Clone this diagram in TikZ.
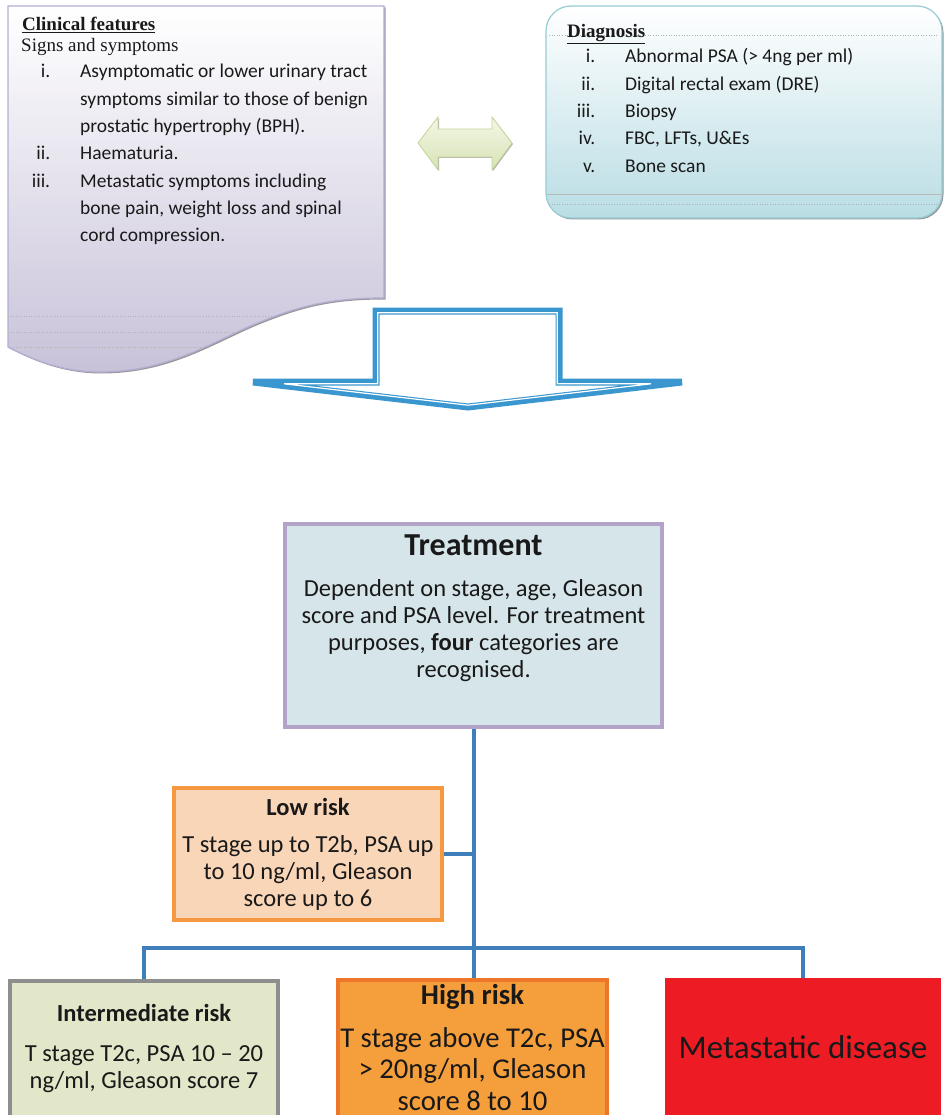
\documentclass[tikz,border=0pt]{standalone}
\usepackage{fontspec}
\setmainfont{Carlito}
\newfontfamily\serifhead{Liberation Serif}
\usepackage{tikz}
\usetikzlibrary{shapes.geometric, arrows}
\usetikzlibrary{positioning}
\usetikzlibrary{shadows}

\definecolor{inkgray}{RGB}{25,25,25}
\definecolor{clinlow}{RGB}{200,194,217}
\definecolor{clinline}{RGB}{182,172,212}
\definecolor{diaglow}{RGB}{185,221,228}
\definecolor{diagline}{RGB}{150,204,214}
\definecolor{dbltop}{RGB}{244,247,230}
\definecolor{dbllow}{RGB}{214,227,182}
\definecolor{dblline}{RGB}{196,212,150}
\definecolor{bigblue}{RGB}{58,150,206}
\definecolor{linkblue}{RGB}{62,126,186}
\definecolor{treatfill}{RGB}{214,229,234}
\definecolor{treatline}{RGB}{180,163,200}
\definecolor{lowfill}{RGB}{250,214,184}
\definecolor{lowline}{RGB}{246,152,64}
\definecolor{interfill}{RGB}{225,231,200}
\definecolor{interline}{RGB}{142,142,142}
\definecolor{highfill}{RGB}{245,158,60}
\definecolor{highline}{RGB}{238,118,42}
\definecolor{metafill}{RGB}{237,28,36}

\tikzstyle{box} = [rectangle, line width=4pt, inner sep=0pt, anchor=north west]
\tikzstyle{tree} = [draw=linkblue, line width=4pt]
\tikzstyle{boxhead} = [text=inkgray, font=\bfseries\fontsize{24.5}{27}\selectfont, anchor=base]
\tikzstyle{boxtext} = [text=inkgray, font=\fontsize{24.5}{27}\selectfont, align=center, anchor=base]
\tikzstyle{listtext} = [text=inkgray, font=\fontsize{19.5}{27.3}\selectfont, inner sep=0pt, anchor=base west]
\tikzstyle{cardtitle} = [text=inkgray, font=\serifhead\fontsize{19}{22}\selectfont, inner sep=0pt, anchor=base west]
\tikzstyle{ruleline} = [gray!60, line width=0.6pt, dotted]
\tikzstyle{bigarrow} = [draw=bigblue, line width=7pt]
\tikzstyle{arrowgap} = [draw=white, line width=1.2pt]
\tikzstyle{cardshadow} = [drop shadow={shadow xshift=1.5pt, shadow yshift=-1.5pt, opacity=.8}]
\newcommand{\itemnum}[1]{\makebox[20pt][r]{#1}}

\begin{document}
\begin{tikzpicture}[x=1pt, y=-1pt]
	\useasboundingbox (0,0) rectangle (943,1115);
	% clinical features card
	\shade[top color=white, bottom color=clinlow, draw=clinline, line width=1.2pt, cardshadow] (8,6) -- (384,6) -- (384,298) .. controls (330,298) and (300,306) .. (260,322) .. controls (215,340) and (170,372) .. (100,372) .. controls (60,372) and (30,358) .. (8,347) -- cycle;
	\begin{scope}
		\clip (8,6) -- (384,6) -- (384,298) .. controls (330,298) and (300,306) .. (260,322) .. controls (215,340) and (170,372) .. (100,372) .. controls (60,372) and (30,358) .. (8,347) -- cycle;
		\draw[ruleline] (8,316) -- (384,316);
		\draw[ruleline] (8,332) -- (384,332);
		\draw[ruleline] (8,347) -- (384,347);
	\end{scope}
	\node (clin-title) [cardtitle, font=\serifhead\bfseries\fontsize{19}{22}\selectfont] at (22,31) {\underline{Clinical features}};
	\node (clin-sub) [cardtitle] at (21,52) {Signs and symptoms};
	\node (clin-list) [listtext] at (30,78) {\begin{tabular}[t]{@{}l@{\hspace{30pt}}l@{}}
		\itemnum{i.} & Asymptomatic or lower urinary tract\\
		 & symptoms similar to those of benign\\
		 & prostatic hypertrophy (BPH).\\
		\itemnum{ii.} & Haematuria.\\
		\itemnum{iii.} & Metastatic symptoms including\\
		 & bone pain, weight loss and spinal\\
		 & cord compression.
	\end{tabular}};

	% diagnosis card
	\shade[top color=white, bottom color=diaglow, draw=diagline, line width=1.2pt, rounded corners=25pt, cardshadow] (546,6) rectangle (942,218);
	\draw[ruleline] (549,35) -- (939,35);
	\draw[gray!55, line width=0.6pt] (547,194) -- (941,194);
	\draw[ruleline] (549,204) -- (939,204);
	\node (diag-title) [cardtitle, font=\serifhead\bfseries\fontsize{19}{22}\selectfont] at (567,38) {\underline{Diagnosis}};
	\node (diag-list) [listtext] at (575,63) {\begin{tabular}[t]{@{}l@{\hspace{30pt}}l@{}}
		\itemnum{i.} & Abnormal PSA (> 4ng per ml)\\
		\itemnum{ii.} & Digital rectal exam (DRE)\\
		\itemnum{iii.} & Biopsy\\
		\itemnum{iv.} & FBC, LFTs, U\&Es\\
		\itemnum{v.} & Bone scan
	\end{tabular}};

	% arrows between the cards and down to treatment
	\shade[top color=dbltop, bottom color=dbllow, draw=dblline, line width=0.8pt, drop shadow={shadow xshift=1pt, shadow yshift=-1pt, opacity=.6}] (418,143) -- (438,117) -- (438,129) -- (492,129) -- (492,117) -- (512,143) -- (492,170) -- (492,157) -- (438,157) -- (438,170) -- cycle;
	\draw[bigarrow] (253,382) -- (376,382) -- (376,311) -- (559,311) -- (559,382) -- (682,382) -- (468,407) -- cycle;
	\draw[arrowgap] (284,383.8) -- (377.8,383.8) -- (377.8,312.8) -- (557.2,312.8) -- (557.2,383.8) -- (651,383.8) -- (468,405.2) -- cycle;

	% treatment and risk groups
	\node (treat) [box, draw=treatline, fill=treatfill, minimum width=377pt, minimum height=203pt] at (283,522) {};
	\node (treat-head) [boxhead, font=\bfseries\fontsize{32}{36}\selectfont] at (473.5,555) {Treatment};
	\node (treat-text) [boxtext] at (473.5,677) {Dependent on stage, age, Gleason\\score and PSA level. For treatment\\purposes, \textbf{four} categories are\\recognised.};

	\node (low) [box, draw=lowline, fill=lowfill, minimum width=268pt, minimum height=132pt] at (172,786) {};
	\node (low-head) [boxhead] at (308,815) {Low risk};
	\node (low-text) [boxtext] at (308,906) {T stage up to T2b, PSA up\\to 10 ng/ml, Gleason\\score up to 6};

	\node (inter) [box, draw=interline, fill=interfill, minimum width=268pt, minimum height=150pt] at (8,979) {};
	\node (inter-head) [boxhead] at (144,1021) {Intermediate risk};
	\node (inter-text) [boxtext] at (144,1088) {T stage T2c, PSA 10 – 20\\ng/ml, Gleason score 7};

	\node (high) [box, draw=highline, fill=highfill, minimum width=269pt, minimum height=150pt] at (336,978) {};
	\node (high-head) [boxhead, font=\bfseries\fontsize{28.7}{31.5}\selectfont] at (472.5,1004) {High risk};
	\node (high-text) [boxtext, font=\fontsize{28.7}{31.5}\selectfont] at (472.5,1110) {T stage above T2c, PSA\\> 20ng/ml, Gleason\\score 8 to 10};

	\node (meta) [box, draw=metafill, fill=metafill, minimum width=272pt, minimum height=150pt] at (665,978) {};
	\node (meta-text) [boxtext, font=\fontsize{33}{36}\selectfont] at (803,1058) {Metastatic disease};

	\coordinate (split) at (473.5,948);
	\draw[tree] (treat.south) -- (split);
	\draw[tree] (low.east) -- (low.east -| treat.south);
	\draw[tree] (inter.north) -- (inter.north |- split) -- (meta.north |- split) -- (meta.north);
	\draw[tree] (split) -- (split |- high.north);
\end{tikzpicture}
\end{document}
